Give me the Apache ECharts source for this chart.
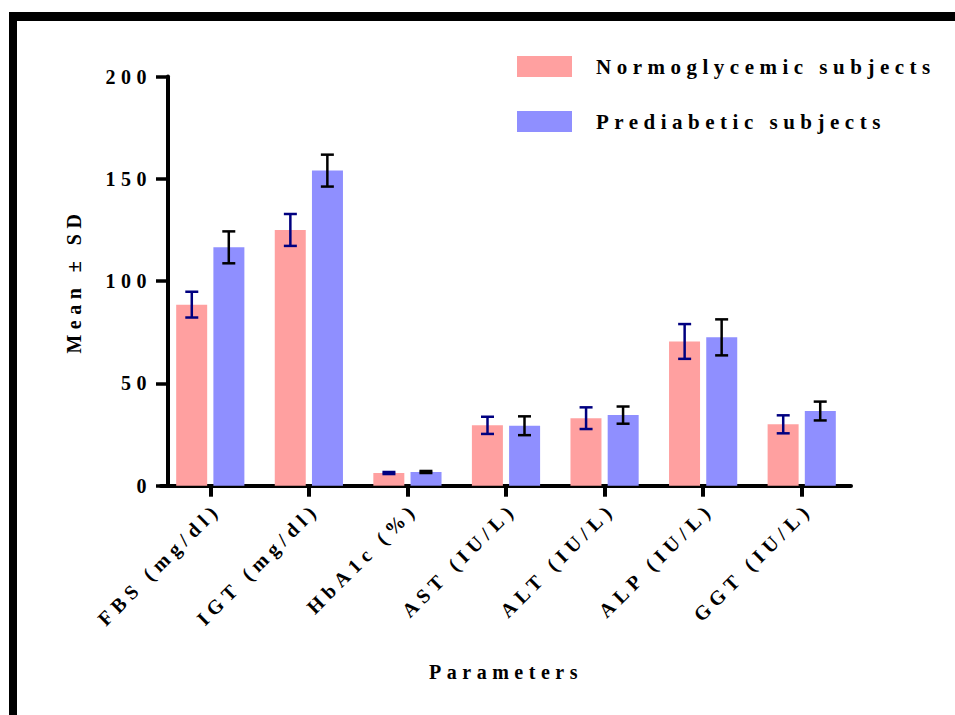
<!DOCTYPE html>
<html>
<head>
<meta charset="utf-8">
<script src="https://cdn.jsdelivr.net/npm/echarts@6/dist/echarts.min.js"></script>
<style>
  html, body { margin: 0; padding: 0; background: #fff; }
  #chart { width: 955px; height: 715px; }
  /* spaced-out lettering like the original export */
  #chart text { letter-spacing: 5.5px; }
</style>
</head>
<body>
<div id="chart"></div>
<script>
const categories = ['FBS (mg/dl)', 'IGT (mg/dl)', 'HbA1c (%)', 'AST (IU/L)', 'ALT (IU/L)', 'ALP (IU/L)', 'GGT (IU/L)']

// Normoglycemic subjects
const normMean = [88.5, 125, 6.2, 29.5, 33, 70.5, 30]
const normSD = [6.3, 7.8, 0.5, 4.2, 5.3, 8.5, 4.4]

// Prediabetic subjects
const predMean = [116.5, 154, 6.7, 29.3, 34.5, 72.5, 36.5]
const predSD = [7.8, 7.8, 0.5, 4.6, 4.2, 8.8, 4.6]

const yTicks = { min: 0, max: 200, interval: 50 }

const FONT = '"Liberation Serif", "Times New Roman", serif'
const PINK = '#FFA0A0'
const BLUE = '#8F8FFF'
const BAR_W = 31
const BAR_OFFSET = 18.5

const errData = (mean, sd) => mean.map((m, i) => [i, m - sd[i], m + sd[i]])

const errorSeries = (name, mean, sd, dx, color) => ({
  name: name,
  type: 'custom',
  z: 5,
  data: errData(mean, sd),
  encode: { x: 0, y: [1, 2] },
  renderItem: (params, api) => {
    const top = api.coord([api.value(0), api.value(2)])
    const bot = api.coord([api.value(0), api.value(1)])
    const x = top[0] + dx
    const cap = 6.5
    const style = { stroke: color, lineWidth: 2.5 }
    return {
      type: 'group',
      children: [
        { type: 'line', shape: { x1: x, y1: top[1], x2: x, y2: bot[1] }, style },
        { type: 'line', shape: { x1: x - cap, y1: top[1], x2: x + cap, y2: top[1] }, style },
        { type: 'line', shape: { x1: x - cap, y1: bot[1], x2: x + cap, y2: bot[1] }, style },
      ],
    }
  },
})

const chart = echarts.init(document.getElementById('chart'), null, { renderer: 'svg' })

const option = {
  animation: false,
  backgroundColor: '#fff',
  textStyle: { fontFamily: FONT },
  graphic: [
    { type: 'rect', shape: { x: 9, y: 12, width: 946, height: 9 }, style: { fill: '#000' } },
    { type: 'rect', shape: { x: 9, y: 12, width: 8, height: 703 }, style: { fill: '#000' } },
  ],
  legend: {
    data: ['Normoglycemic subjects', 'Prediabetic subjects'],
    orient: 'vertical',
    left: 517,
    top: 56,
    padding: 0,
    icon: 'rect',
    itemWidth: 55,
    itemHeight: 21,
    itemGap: 34,
    textStyle: {
      fontFamily: FONT,
      fontWeight: 'bold',
      fontSize: 21,
      lineHeight: 21,
      color: '#000',
      padding: [0, 0, 0, 19],
    },
  },
  grid: {
    left: 161,
    right: 104,
    top: 76.5,
    bottom: 229.3,
    containLabel: false,
    outerBoundsMode: 'none',
  },
  xAxis: {
    type: 'category',
    data: categories,
    name: 'Parameters',
    nameLocation: 'middle',
    nameGap: 176,
    nameTextStyle: { fontFamily: FONT, fontWeight: 'bold', fontSize: 20, color: '#000' },
    axisLine: { show: true, lineStyle: { color: '#000', width: 4 } },
    axisTick: { show: true, alignWithLabel: true, length: 11, lineStyle: { color: '#000', width: 4 } },
    axisLabel: {
      rotate: 45,
      interval: 0,
      margin: 13,
      verticalAlign: 'top',
      fontFamily: FONT,
      fontWeight: 'bold',
      fontSize: 20,
      color: '#000',
    },
    splitLine: { show: false },
  },
  yAxis: {
    type: 'value',
    min: yTicks.min,
    max: yTicks.max,
    interval: yTicks.interval,
    offset: -7,
    name: 'Mean ± SD',
    nameLocation: 'middle',
    nameGap: 84,
    nameRotate: 90,
    nameTextStyle: { fontFamily: FONT, fontWeight: 'bold', fontSize: 20, color: '#000' },
    axisLine: { show: true, lineStyle: { color: '#000', width: 4 } },
    axisTick: { show: true, length: 12, lineStyle: { color: '#000', width: 3.5 } },
    axisLabel: { margin: 16, fontFamily: FONT, fontWeight: 'bold', fontSize: 20, color: '#000' },
    splitLine: { show: false },
  },
  series: [
    {
      name: 'Normoglycemic subjects',
      type: 'bar',
      data: normMean,
      barWidth: BAR_W,
      barGap: '20%',
      itemStyle: { color: PINK },
    },
    {
      name: 'Prediabetic subjects',
      type: 'bar',
      data: predMean,
      barWidth: BAR_W,
      barGap: '20%',
      itemStyle: { color: BLUE },
    },
    errorSeries('normErr', normMean, normSD, -BAR_OFFSET, '#000080'),
    errorSeries('predErr', predMean, predSD, BAR_OFFSET, '#000'),
  ],
}

chart.setOption(option)
</script>
</body>
</html>
